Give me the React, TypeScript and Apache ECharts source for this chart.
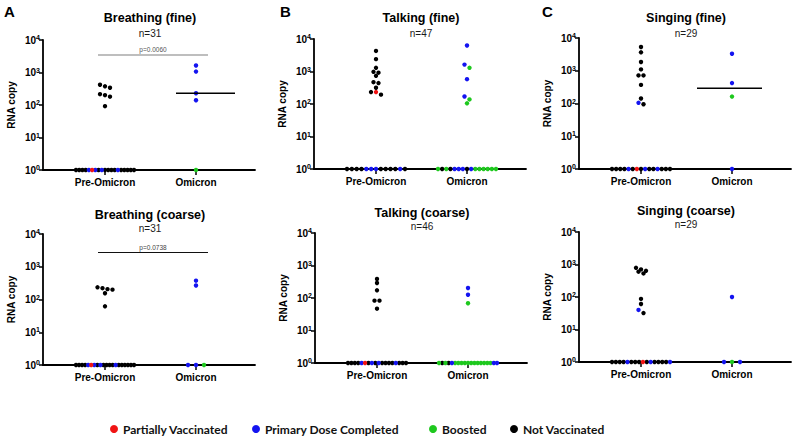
import React, { useEffect, useRef } from 'react';
import * as echarts from 'echarts';

const FONT = 'Liberation Sans, Arial, sans-serif';
const LEGEND_FONT = 'Lato, Noto Sans, sans-serif';

const STATUS_NAMES = ['Partially Vaccinated', 'Primary Dose Completed', 'Boosted', 'Not Vaccinated'];
const STATUS_CODES = ['r', 'b', 'g', 'k'];
const STATUS_COLORS = ['#f01414', '#1414f0', '#1ec81e', '#000000'];
const CATEGORIES = ['Pre-Omicron', 'Omicron'];
const Y_MIN = 1;
const Y_MAX = 10000;
const LOD = 1; // samples below detection plotted at 10^0

// ---- Breathing (fine), n=31
const breathFinePreVals = [420, 375, 340, 215, 200, 180, 92];
const breathFinePreStat = 'kkkkkkk';
const breathFinePreBase = 'kkkkbrbkbkkkkbkkkkk';
const breathFineOmiVals = [1640, 1070, 230, 140];
const breathFineOmiStat = 'bbbb';
const breathFineOmiBase = 'g';

// ---- Breathing (coarse), n=31
const breathCoarsePreVals = [235, 222, 207, 200, 155, 62];
const breathCoarsePreStat = 'kkkkkk';
const breathCoarsePreBase = 'kkkkbrbkbkkkkbkkkkkk';
const breathCoarseOmiVals = [375, 268];
const breathCoarseOmiStat = 'bb';
const breathCoarseOmiBase = 'bbg';

// ---- Talking (fine), n=47
const talkFinePreVals = [4300, 2400, 1300, 980, 920, 735, 470, 440, 316, 233, 233, 194];
const talkFinePreStat = 'kkkkkkkkkkrk';
const talkFinePreBase = 'kkkkbbbkkkkbk';
const talkFineOmiVals = [6300, 1630, 1300, 580, 170, 138, 105];
const talkFineOmiStat = 'bbgbbgg';
const talkFineOmiBase = 'gkgkbbbkbgggggg';

// ---- Talking (coarse), n=46
const talkCoarsePreVals = [385, 290, 172, 83, 83, 47];
const talkCoarsePreStat = 'kkkkkk';
const talkCoarsePreBase = 'kkkkbrkbkbkkkkbkkk';
const talkCoarseOmiVals = [203, 126, 69];
const talkCoarseOmiStat = 'bbg';
const talkCoarseOmiBase = 'gkgkbggggggggggggbb';

// ---- Singing (fine), n=29
const singFinePreVals = [5300, 3650, 1850, 1100, 720, 720, 370, 142, 105, 95];
const singFinePreStat = 'kkkkkkkkbk';
const singFinePreBase = 'kkkkbkrkbkkbkkk';
const singFineOmiVals = [3300, 420, 163];
const singFineOmiStat = 'bbg';
const singFineOmiBase = 'b';

// ---- Singing (coarse), n=29
const singCoarsePreVals = [790, 706, 640, 600, 530, 87, 61, 40, 32];
const singCoarsePreStat = 'kkkkkkkbk';
const singCoarsePreBase = 'kkkkbkkkrkbkkkkb';
const singCoarseOmiVals = [100];
const singCoarseOmiStat = 'b';
const singCoarseOmiBase = 'bgb';

// layout constants
const GRID_W = 212;
const PRE_OFF = 62;
const CAT_GAP = 91;
const X_MIN = 1 - PRE_OFF / CAT_GAP;
const X_MAX = X_MIN + GRID_W / CAT_GAP;
const DOT = 4.4;
const DOT_STEP = 5;
const ROW_TOL = 3.8;
const BASE_SPAN = 58;
const BASE_MAX_STEP = 8;

type Group = [number[], string, string];
type Panel = {
  letter?: string;
  letterX?: number;
  title: string;
  n: number;
  left: number;
  top: number;
  height: number;
  titleY: number;
  nGap: number;
  groups: Group[];
  median: (null | [number, number])[];
  p?: { text: string; y: number; color: string; textColor: string; width: number };
};

const PANELS: Panel[] = [
  {
    letter: 'A', letterX: 9, title: 'Breathing (fine)', n: 31, left: 43, top: 40, height: 130, titleY: 11, nGap: 2,
    groups: [[breathFinePreVals, breathFinePreStat, breathFinePreBase], [breathFineOmiVals, breathFineOmiStat, breathFineOmiBase]],
    median: [null, [-20, 39]],
    p: { text: 'p=0.0060', y: 55, color: '#a8a8a8', textColor: '#555', width: 1.6 },
  },
  {
    title: 'Breathing (coarse)', n: 31, left: 43, top: 234, height: 131, titleY: 208, nGap: 0,
    groups: [[breathCoarsePreVals, breathCoarsePreStat, breathCoarsePreBase], [breathCoarseOmiVals, breathCoarseOmiStat, breathCoarseOmiBase]],
    median: [null, null],
    p: { text: 'p=0.0738', y: 252.5, color: '#111', textColor: '#444', width: 1 },
  },
  {
    letter: 'B', letterX: 285, title: 'Talking (fine)', n: 47, left: 314, top: 39, height: 130, titleY: 11, nGap: 2,
    groups: [[talkFinePreVals, talkFinePreStat, talkFinePreBase], [talkFineOmiVals, talkFineOmiStat, talkFineOmiBase]],
    median: [null, null],
  },
  {
    title: 'Talking (coarse)', n: 46, left: 315, top: 233, height: 130, titleY: 206, nGap: 0,
    groups: [[talkCoarsePreVals, talkCoarsePreStat, talkCoarsePreBase], [talkCoarseOmiVals, talkCoarseOmiStat, talkCoarseOmiBase]],
    median: [null, null],
  },
  {
    letter: 'C', letterX: 547, title: 'Singing (fine)', n: 29, left: 579, top: 38, height: 131, titleY: 11, nGap: 2,
    groups: [[singFinePreVals, singFinePreStat, singFinePreBase], [singFineOmiVals, singFineOmiStat, singFineOmiBase]],
    median: [null, [-35, 30]],
  },
  {
    title: 'Singing (coarse)', n: 29, left: 579, top: 232, height: 130, titleY: 204, nGap: 0,
    groups: [[singCoarsePreVals, singCoarsePreStat, singCoarsePreBase], [singCoarseOmiVals, singCoarseOmiStat, singCoarseOmiBase]],
    median: [null, null],
  },
];

const LEGEND_LEFTS = [110, 252, 429, 510];

type Pt = { x: number; y: number; s: string };

function layoutGroup(g: Group, center: number, decPx: number): Pt[] {
  const [vals, stat, base] = g;
  const pts: Pt[] = [];
  const items = vals.map((v, i) => ({ v, s: stat[i] })).sort((a, b) => b.v - a.v);
  let row: { v: number; s: string }[] = [];
  let rowY = 0;
  const flush = () => {
    row.forEach((it, i) => {
      pts.push({ x: center + ((i - (row.length - 1) / 2) * DOT_STEP) / CAT_GAP, y: it.v, s: it.s });
    });
    row = [];
  };
  for (const it of items) {
    const py = Math.log10(it.v) * decPx;
    if (row.length && rowY - py > ROW_TOL) flush();
    if (!row.length) rowY = py;
    row.push(it);
  }
  flush();
  const n = base.length;
  const step = n > 1 ? Math.min(BASE_MAX_STEP, BASE_SPAN / (n - 1)) : 0;
  for (let i = 0; i < n; i++) {
    pts.push({ x: center + ((i - (n - 1) / 2) * step) / CAT_GAP, y: LOD, s: base[i] });
  }
  return pts;
}

function median(g: Group): number {
  const all = [...g[0], ...g[2].split('').map(() => LOD)].sort((a, b) => a - b);
  const m = all.length;
  return m % 2 ? all[(m - 1) / 2] : (all[m / 2 - 1] + all[m / 2]) / 2;
}

function buildOption() {
  const grid: any[] = [];
  const xAxis: any[] = [];
  const yAxis: any[] = [];
  const series: any[] = [];
  const title: any[] = [];
  const graphic: any[] = [];

  PANELS.forEach((p, i) => {
    grid.push({ left: p.left, top: p.top, width: GRID_W, height: p.height });
    xAxis.push({
      gridIndex: i,
      type: 'value',
      min: X_MIN,
      max: X_MAX,
      axisLine: { show: true, onZero: false, lineStyle: { color: '#000', width: 1.8 } },
      axisTick: { show: true, customValues: [1, 2], length: 5, lineStyle: { color: '#000', width: 1.5 } },
      axisLabel: {
        customValues: [1, 2],
        formatter: (v: number) => CATEGORIES[Math.round(v) - 1] ?? '',
        margin: 7,
        fontSize: 10,
        fontWeight: 'bold',
        color: '#000',
        fontFamily: FONT,
      },
      splitLine: { show: false },
    });
    yAxis.push({
      gridIndex: i,
      type: 'log',
      logBase: 10,
      min: Y_MIN,
      max: Y_MAX,
      splitNumber: 4,
      name: 'RNA copy',
      nameLocation: 'middle',
      nameGap: 27,
      nameTextStyle: { fontSize: 10, fontWeight: 'bold', fontFamily: FONT, color: '#000' },
      axisLine: { show: true, lineStyle: { color: '#000', width: 1.8 } },
      axisTick: { show: true, length: 4, lineStyle: { color: '#000', width: 1.5 } },
      axisLabel: {
        margin: 3,
        color: '#000',
        formatter: (v: number) => `{b|10}{s|${Math.round(Math.log10(v))}}`,
        rich: {
          b: { fontSize: 10, fontWeight: 'bold', fontFamily: FONT, color: '#000', lineHeight: 12 },
          s: { fontSize: 7, fontWeight: 'bold', fontFamily: FONT, color: '#000', lineHeight: 7, verticalAlign: 'top' },
        },
      },
      splitLine: { show: false },
    });

    const decPx = p.height / Math.log10(Y_MAX / Y_MIN);
    const pts: Pt[] = [];
    p.groups.forEach((g, gi) => pts.push(...layoutGroup(g, gi + 1, decPx)));
    [3, 2, 1, 0].forEach((si) => {
      series.push({
        type: 'scatter',
        name: STATUS_NAMES[si],
        xAxisIndex: i,
        yAxisIndex: i,
        symbol: 'circle',
        symbolSize: DOT,
        itemStyle: { color: STATUS_COLORS[si], opacity: 1 },
        emphasis: { disabled: true },
        data: pts.filter((pt) => pt.s === STATUS_CODES[si]).map((pt) => [pt.x, pt.y]),
      });
    });
    p.median.forEach((m, gi) => {
      if (!m) return;
      const med = median(p.groups[gi]);
      const c = gi + 1;
      series.push({
        type: 'line',
        xAxisIndex: i,
        yAxisIndex: i,
        symbol: 'none',
        silent: true,
        lineStyle: { color: '#000', width: 1.5 },
        data: [[c + m[0] / CAT_GAP, med], [c + m[1] / CAT_GAP, med]],
      });
    });

    title.push({
      text: p.title,
      subtext: `n=${p.n}`,
      left: p.left + 107,
      top: p.titleY,
      textAlign: 'center',
      padding: 0,
      itemGap: p.nGap,
      textStyle: { fontSize: 12.5, fontWeight: 'bold', fontFamily: FONT, color: '#000', lineHeight: 14 },
      subtextStyle: { fontSize: 10, fontFamily: FONT, color: '#1a1a1a', lineHeight: 12 },
    });

    if (p.letter) {
      graphic.push({
        type: 'text',
        left: (p.letterX as number) - 5,
        top: 4,
        style: { text: p.letter, font: `bold 15px ${FONT}`, fill: '#000' },
      });
    }
    if (p.p) {
      const x1 = p.left + 55;
      const x2 = p.left + 165;
      graphic.push({
        type: 'line',
        shape: { x1, y1: p.p.y, x2, y2: p.p.y },
        style: { stroke: p.p.color, lineWidth: p.p.width },
      });
      graphic.push({
        type: 'text',
        x: (x1 + x2) / 2,
        y: p.p.y - 2,
        style: {
          text: p.p.text,
          font: `6.5px ${FONT}`,
          fill: p.p.textColor,
          textAlign: 'center',
          textVerticalAlign: 'bottom',
        },
      });
    }
  });

  const legend = STATUS_NAMES.map((nm, i) => ({
    data: [{ name: nm, icon: 'circle' }],
    left: LEGEND_LEFTS[i],
    top: 423,
    padding: 0,
    itemWidth: 8,
    itemHeight: 8,
    itemGap: 0,
    selectedMode: false,
    textStyle: { fontFamily: LEGEND_FONT, fontWeight: 'bold', fontSize: 12, color: '#111', padding: [0, 0, 0, 0] },
  }));

  return {
    animation: false,
    backgroundColor: '#ffffff',
    grid,
    xAxis,
    yAxis,
    series,
    title,
    legend,
    graphic,
  };
}

export default function App() {
  const ref = useRef<HTMLDivElement>(null);
  useEffect(() => {
    if (!ref.current) return;
    const chart = echarts.init(ref.current, undefined, { renderer: 'svg' });
    chart.setOption(buildOption() as any);
    return () => chart.dispose();
  }, []);
  return <div ref={ref} style={{ position: 'fixed', left: 0, top: 0, width: 795, height: 439, background: '#fff' }} />;
}
